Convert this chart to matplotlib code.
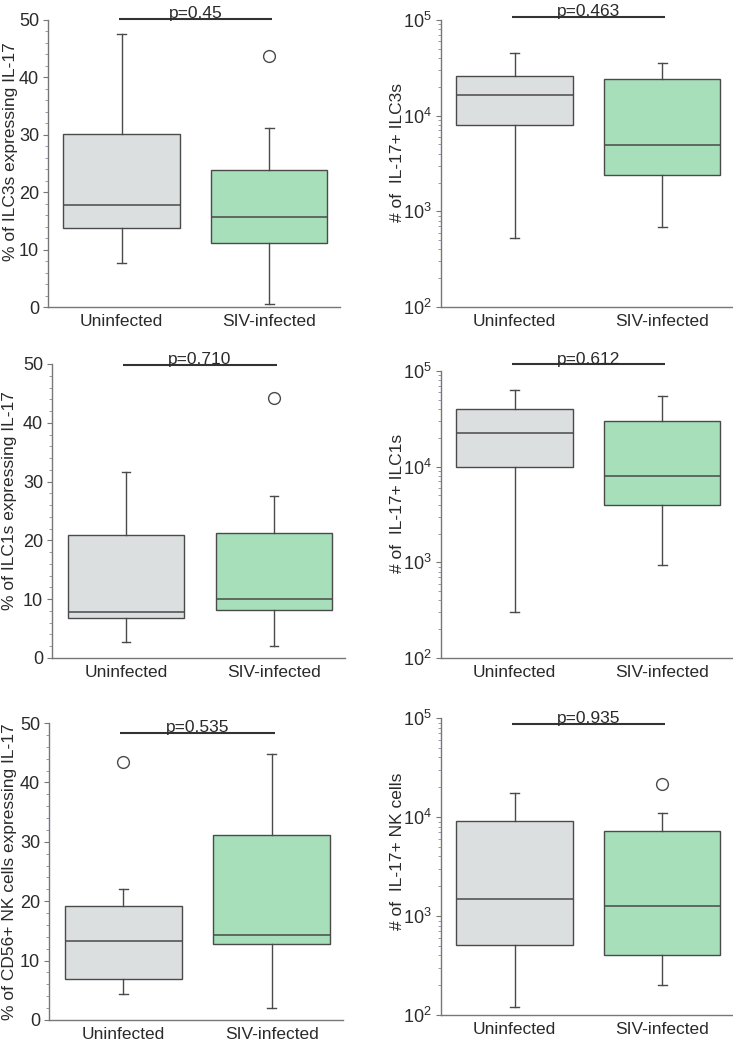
import matplotlib
matplotlib.use("Agg")
import matplotlib.pyplot as plt
from matplotlib.ticker import MultipleLocator, LogLocator, NullFormatter

plt.rcParams["font.family"] = ["Liberation Sans", "DejaVu Sans"]
plt.rcParams["mathtext.default"] = "regular"

GROUPS = ["Uninfected", "SIV-infected"]
BOX_COLOURS = ["#dcdfe0", "#a6dfb9"]

# box stats per panel: [whislo, q1, med, q3, whishi] for (Uninfected, SIV-infected)
ILC3_PCT = [[7.6, 13.7, 17.7, 30.1, 47.6], [0.6, 11.2, 15.7, 23.8, 31.1]]
ILC3_PCT_FLIERS = [[], [43.8]]
ILC3_NUM = [[524, 8030, 16500, 25800, 45500], [682, 2410, 4920, 24300, 35500]]
ILC3_NUM_FLIERS = [[], []]

ILC1_PCT = [[2.8, 6.8, 7.8, 21.0, 31.6], [2.0, 8.1, 10.1, 21.2, 27.5]]
ILC1_PCT_FLIERS = [[], [44.3]]
ILC1_NUM = [[302, 9820, 22600, 40500, 63800], [930, 3980, 8040, 30100, 54400]]
ILC1_NUM_FLIERS = [[], []]

NK_PCT = [[4.4, 6.85, 13.3, 19.2, 22.0], [1.97, 12.8, 14.3, 31.2, 44.7]]
NK_PCT_FLIERS = [[43.4], []]
NK_NUM = [[120, 507, 1490, 9160, 17300], [200, 405, 1270, 7140, 10960]]
NK_NUM_FLIERS = [[], [21300]]

P_VALUES = ["p=0.45", "p=0.463", "p=0.710", "p=0.612", "p=0.535", "p=0.935"]
P_LINE_Y = [50.2, 1.08e5, 49.9, 1.17e5, 48.4, 8.7e4]

YLABELS = [
    "% of ILC3s expressing IL-17",
    "# of  IL-17+ ILC3s",
    "% of ILC1s expressing IL-17",
    "# of  IL-17+ ILC1s",
    "% of CD56+ NK cells expressing IL-17",
    "# of  IL-17+ NK cells",
]

PANELS = [
    (ILC3_PCT, ILC3_PCT_FLIERS, False),
    (ILC3_NUM, ILC3_NUM_FLIERS, True),
    (ILC1_PCT, ILC1_PCT_FLIERS, False),
    (ILC1_NUM, ILC1_NUM_FLIERS, True),
    (NK_PCT, NK_PCT_FLIERS, False),
    (NK_NUM, NK_NUM_FLIERS, True),
]

# axes rectangles in pixels: left, right, top, bottom
RECTS_PX = [
    (48, 340, 20, 307),
    (441, 733, 20, 307),
    (52, 345, 364, 658),
    (441, 733, 371, 658),
    (49, 343, 723, 1020),
    (441, 733, 718, 1015),
]
# y-label anchor (axes fraction), right edge of the rotated text
LABEL_XY = [(-0.103, 0.54), (-0.123, 0.54), (-0.12, 0.537),
            (-0.123, 0.54), (-0.109, 0.5), (-0.123, 0.55)]

W, H = 733, 1040
EDGE = "#4a4a4a"
TEXT = "#2a2a2a"

fig = plt.figure(figsize=(W / 100, H / 100), dpi=100)

for i, ((stats, fliers, is_log), rect) in enumerate(zip(PANELS, RECTS_PX)):
    l, r, t, b = rect
    ax = fig.add_axes([l / W, 1 - b / H, (r - l) / W, (b - t) / H])

    bstats = []
    for name, s, f in zip(GROUPS, stats, fliers):
        bstats.append({"label": name, "whislo": s[0], "q1": s[1], "med": s[2],
                       "q3": s[3], "whishi": s[4], "fliers": f})

    parts = ax.bxp(
        bstats, positions=[1, 2], widths=0.79, capwidths=0.06,
        patch_artist=True, showfliers=True,
        boxprops=dict(edgecolor=EDGE, linewidth=1.0),
        medianprops=dict(color=EDGE, linewidth=1.1),
        whiskerprops=dict(color=EDGE, linewidth=1.0),
        capprops=dict(color=EDGE, linewidth=1.0),
        flierprops=dict(marker="o", markersize=8.5, markerfacecolor="white",
                        markeredgecolor=EDGE, markeredgewidth=1.0),
    )
    for patch, c in zip(parts["boxes"], BOX_COLOURS):
        patch.set_facecolor(c)

    ax.set_xlim(0.5, 2.48)
    if is_log:
        ax.set_yscale("log")
        ax.set_ylim(1e2, 1e5)
        ax.yaxis.set_major_locator(LogLocator(base=10, numticks=10))
        ax.yaxis.set_minor_locator(LogLocator(base=10, subs=range(2, 10), numticks=20))
        ax.yaxis.set_minor_formatter(NullFormatter())
    else:
        ax.set_ylim(0, 50)
        ax.yaxis.set_major_locator(MultipleLocator(10))
        ax.yaxis.set_minor_locator(MultipleLocator(2))

    for side in ("top", "right"):
        ax.spines[side].set_visible(False)
    for side in ("left", "bottom"):
        ax.spines[side].set_color("#777777")
        ax.spines[side].set_linewidth(1.0)

    ax.tick_params(axis="x", length=0, labelsize=12.5, colors=TEXT, pad=5)
    ax.tick_params(axis="y", which="major", length=3.5, width=0.8, color="#777777",
                   labelsize=13, labelcolor=TEXT, pad=3)
    ax.tick_params(axis="y", which="minor", length=2, width=0.6, color="#8888aa")
    ax.set_xticks([1, 2])
    ax.set_xticklabels(GROUPS)

    ax.set_ylabel(YLABELS[i], fontsize=12.5, color=TEXT)
    ax.yaxis.set_label_coords(*LABEL_XY[i])

    # significance bar
    py = P_LINE_Y[i]
    ax.plot([0.98, 2.02], [py, py], color="#333333", linewidth=1.5,
            clip_on=False, solid_capstyle="butt")
    ax.annotate(P_VALUES[i], xy=(1.5, py), xytext=(0, -1.5), textcoords="offset points",
                ha="center", va="bottom", fontsize=12.5, color=TEXT, annotation_clip=False)

fig.savefig("out.png", dpi=100)
